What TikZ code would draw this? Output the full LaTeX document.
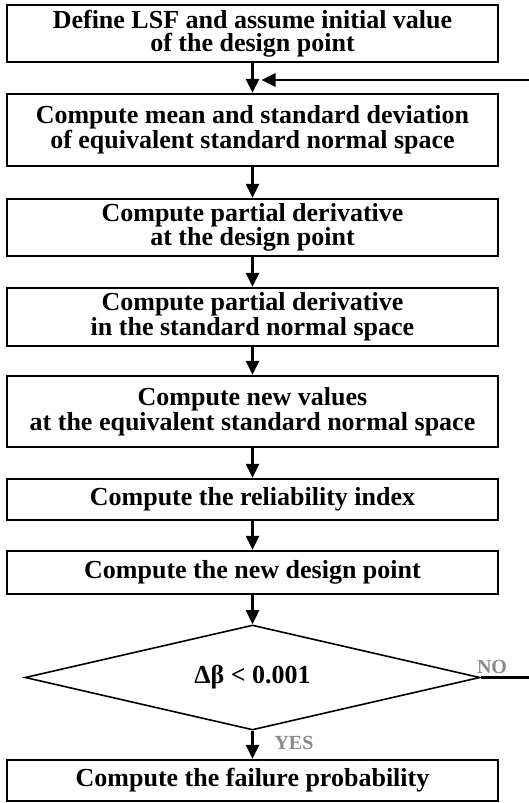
\documentclass[tikz,border=0pt]{standalone}
\usepackage{fontspec}
\setmainfont{Liberation Serif}
\usetikzlibrary{arrows.meta,shapes.geometric}
\definecolor{lblgray}{HTML}{8A8A8A}
\tikzset{
  procbox/.style={draw, line width=2.2pt, minimum width=491pt, inner sep=0pt,
    align=center, font=\fontsize{26}{23.5}\selectfont\bfseries},
  decbox/.style={draw, shape=diamond, aspect=4.333, line width=1.6pt, minimum width=455pt,
    minimum height=105pt, inner sep=0pt, font=\fontsize{26}{23.5}\selectfont\bfseries},
  flow/.style={line width=2.6pt, -{Triangle[length=14pt,width=13pt]}},
  branch/.style={font=\fontsize{20}{20}\selectfont\bfseries, text=lblgray, inner sep=0pt}
}
\begin{document}
\begin{tikzpicture}[x=1pt,y=-1pt]
\useasboundingbox[fill=white] (0,0) rectangle (528,803);
\node[procbox, minimum height=57pt] (b1) at (252.5,33.5) {Define LSF and assume initial value\\of the design point};
\node[procbox, minimum height=72pt] (b2) at (252.5,130) {Compute mean and standard deviation\\of equivalent standard normal space};
\node[procbox, minimum height=57pt] (b3) at (252.5,227.5) {Compute partial derivative\\at the design point};
\node[procbox, minimum height=58pt] (b4) at (252.5,317) {Compute partial derivative\\in the standard normal space};
\node[procbox, minimum height=71pt] (b5) at (252.5,411.5) {Compute new values\\at the equivalent standard normal space};
\node[procbox, minimum height=41pt] (b6) at (252.5,499.5) {Compute the reliability index};
\node[procbox, minimum height=43pt] (b7) at (252.5,572.5) {Compute the new design point};
\node[decbox] (d) at (252.5,677.5) {Δβ < 0.001};
\node[procbox, minimum height=41pt] (b8) at (252.5,780.5) {Compute the failure probability};
\coordinate (join) at (252.5,80);
\coordinate (far) at (531,677.5);
\draw[flow] (b1) -- (b2);
\draw[flow] (b2) -- (b3);
\draw[flow] (b3) -- (b4);
\draw[flow] (b4) -- (b5);
\draw[flow] (b5) -- (b6);
\draw[flow] (b6) -- (b7);
\draw[flow] (b7) -- (d);
\draw[flow] (d) -- (b8);
\draw[flow, shorten >=9pt] (d.east) -- (far) |- (join);
\node[branch] (no) at (492,667) {NO};
\node[branch] (yes) at (294,743) {YES};
\end{tikzpicture}
\end{document}
